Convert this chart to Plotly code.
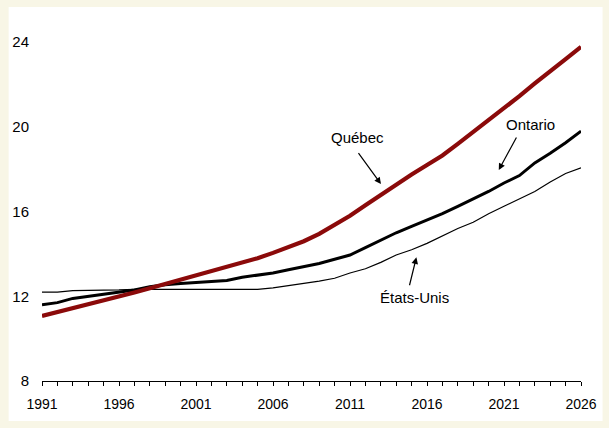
import plotly.graph_objects as go

years = list(range(1991, 2027))

quebec = [11.07, 11.25, 11.42, 11.60, 11.80, 12.00, 12.18, 12.38, 12.58, 12.75,
          12.95, 13.20, 13.40, 13.60, 13.80, 14.05, 14.30, 14.60, 14.95, 15.35,
          15.80, 16.30, 16.80, 17.30, 17.75, 18.20, 18.65, 19.20, 19.75, 20.30,
          20.85, 21.45, 22.05, 22.65, 23.20, 23.78]
ontario = [11.60, 11.70, 11.90, 12.00, 12.10, 12.20, 12.30, 12.45, 12.55, 12.60,
           12.65, 12.68, 12.75, 12.90, 13.00, 13.10, 13.25, 13.40, 13.55, 13.75,
           13.95, 14.30, 14.65, 15.00, 15.30, 15.60, 15.90, 16.25, 16.60, 16.95,
           17.35, 17.70, 18.30, 18.75, 19.25, 19.80]
etats_unis = [12.20, 12.20, 12.27, 12.27, 12.30, 12.30, 12.33, 12.33, 12.33, 12.33,
              12.33, 12.33, 12.33, 12.33, 12.33, 12.40, 12.50, 12.62, 12.72, 12.85,
              13.10, 13.30, 13.60, 13.95, 14.20, 14.50, 14.85, 15.20, 15.50, 15.90,
              16.25, 16.60, 16.95, 17.40, 17.80, 18.07]

y_ticks = [8, 12, 16, 20, 24]
x_ticks = [1991, 1996, 2001, 2006, 2011, 2016, 2021, 2026]

FONT = "Liberation Sans, Arial, sans-serif"

fig = go.Figure()
fig.add_trace(go.Scatter(x=years, y=etats_unis, mode="lines",
                         line=dict(color="black", width=1.2), name="États-Unis"))
fig.add_trace(go.Scatter(x=years, y=ontario, mode="lines",
                         line=dict(color="black", width=3), name="Ontario"))
fig.add_trace(go.Scatter(x=years, y=quebec, mode="lines",
                         line=dict(color="#8B0A0A", width=4.2), name="Québec"))

# labels with arrows pointing to each curve
labels = [
    ("Québec", 2011.5, 19.52, 2011.48, 18.83, 2013.01, 17.30),
    ("Ontario", 2022.75, 20.13, 2021.86, 19.57, 2020.66, 17.96),
    ("États-Unis", 2015.16, 11.92, 2014.84, 12.45, 2015.31, 13.84),
]
annotations = []
for text, tx, ty, ax0, ay0, hx, hy in labels:
    annotations.append(dict(x=tx, y=ty, text=text, showarrow=False,
                            font=dict(family=FONT, size=15, color="black")))
    annotations.append(dict(x=hx, y=hy, ax=ax0, ay=ay0, axref="x", ayref="y",
                            text="", showarrow=True, arrowhead=2, arrowsize=1.1,
                            arrowwidth=1.2, arrowcolor="black"))

fig.update_layout(
    width=609, height=428,
    margin=dict(l=42, r=18, t=21, b=47),
    paper_bgcolor="#F8F6E6",
    plot_bgcolor="white",
    showlegend=False,
    annotations=annotations,
    shapes=[dict(type="rect", xref="paper", yref="paper",
                 x0=-0.0619, x1=1.04, y0=-0.111, y1=1.0389,
                 fillcolor="white", line=dict(width=0), layer="below")],
    xaxis=dict(range=[1991, 2026], tickvals=x_ticks, ticks="outside", ticklen=4,
               tickcolor="black", tickwidth=1, showline=True, linecolor="black",
               linewidth=1, showgrid=False, zeroline=False, ticklabelstandoff=6,
               minor=dict(dtick=1, tick0=1991, ticks="outside", ticklen=4,
                          tickcolor="black", showgrid=False),
               tickfont=dict(family=FONT, size=14, color="black")),
    yaxis=dict(range=[8, 25], tickvals=y_ticks, showgrid=False, zeroline=False,
               showline=False, ticks="", ticklabelstandoff=12,
               tickfont=dict(family=FONT, size=15, color="black")),
)

fig.write_html("out.html")
